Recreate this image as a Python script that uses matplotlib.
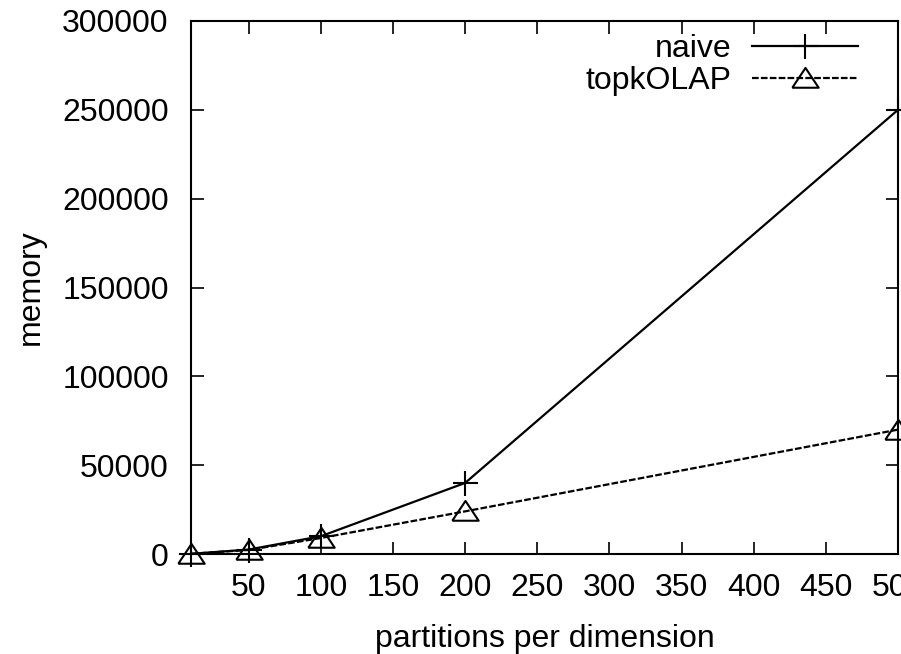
import matplotlib
matplotlib.use("Agg")
import matplotlib.pyplot as plt

partitions = [10, 50, 100, 200, 500]
naive = [100, 2500, 10000, 40000, 250000]
topkolap = [100, 2300, 9000, 24000, 70000]
xticks = [50, 100, 150, 200, 250, 300, 350, 400, 450, 500]
yticks = [0, 50000, 100000, 150000, 200000, 250000, 300000]

FS = 23
plt.rcParams['font.family'] = ['Liberation Sans', 'DejaVu Sans']
fig = plt.figure(figsize=(9.01, 6.54), dpi=100)
ax = fig.add_axes([191/901, 100/654, (898-191)/901, (554-21)/654])

tri = [(-1, -0.7), (1, -0.7), (0, 0.8), (-1, -0.7)]
ax.plot(partitions, naive, color='black', lw=1.6, marker='+', ms=18, mew=1.5,
        label='naive', clip_on=False, zorder=3)
ax.plot(partitions, topkolap, color='black', lw=1.6, ls=(0, (3, 1)), marker=tri,
        ms=19, mew=1.5, mfc='none', mec='black', label='topkOLAP',
        clip_on=False, zorder=3)

ax.set_xlim(10, 500)
ax.set_ylim(0, 300000)
ax.set_xticks(xticks)
ax.set_yticks(yticks)
ax.tick_params(direction='in', length=9, width=1.2, top=True, right=True,
               labelsize=FS)
ax.tick_params(axis='y', pad=16)
ax.tick_params(axis='x', pad=14)
for s in ax.spines.values():
    s.set_linewidth(1.5)

ax.set_xlabel('partitions per dimension', fontsize=FS, labelpad=15)
ax.set_ylabel('memory', fontsize=FS, labelpad=12)

leg = ax.legend(loc='upper right', frameon=False, markerfirst=False, fontsize=FS,
                handlelength=3.32, handletextpad=0.63, labelspacing=0.08,
                borderaxespad=0.0, bbox_to_anchor=(0.961, 1.0))

fig.savefig('out.png', dpi=100)
